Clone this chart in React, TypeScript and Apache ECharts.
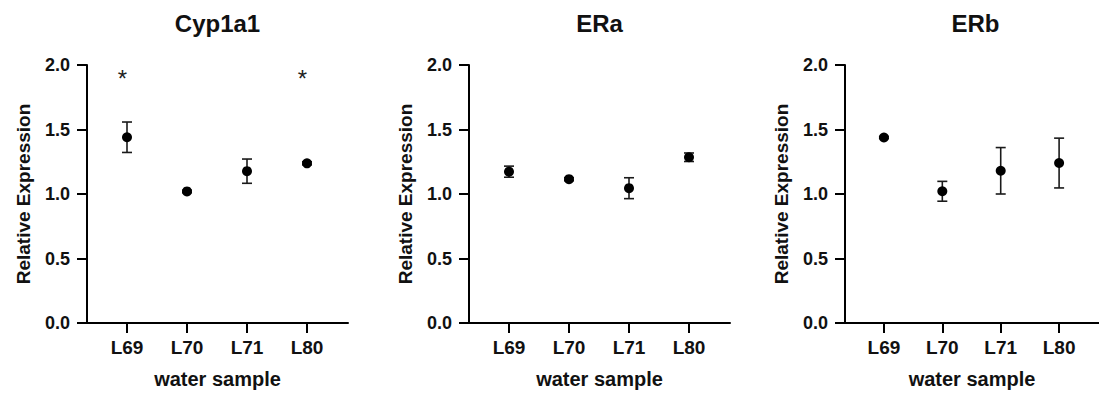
import React, { useEffect, useRef } from "react";
import * as echarts from "echarts";

const categories = ["L69", "L70", "L71", "L80"];
const titles = ["Cyp1a1", "ERa", "ERb"];

const cypMean = [1.44, 1.02, 1.177, 1.238];
const cypErr = [0.118, 0.01, 0.094, 0.012];
const cypStars = [1, 0, 0, 1];

const eraMean = [1.173, 1.115, 1.045, 1.285];
const eraErr = [0.043, 0.012, 0.081, 0.033];

const erbMean = [1.438, 1.021, 1.18, 1.24];
const erbErr = [0.008, 0.077, 0.18, 0.193];

const yTicks = [0, 0.5, 1.0, 1.5, 2.0];
const starLevel = 1.94;

const means = [cypMean, eraMean, erbMean];
const errs = [cypErr, eraErr, erbErr];

const FONT = '"Liberation Sans", Arial, sans-serif';
const gridLefts = [87, 469, 845];
const GRID_W = 261;
const GRID_TOP = 65;
const GRID_H = 261;
const XMIN = -2 / 3;
const XMAX = XMIN + GRID_W / 60;

export default function App() {
  const ref = useRef<HTMLDivElement>(null);

  useEffect(() => {
    if (!ref.current) return;
    const chart = echarts.init(ref.current, null, { renderer: "svg" });

    const grids = gridLefts.map((left) => ({
      left,
      top: GRID_TOP,
      width: GRID_W,
      height: GRID_H,
      containLabel: false,
    }));

    const tickIdx = categories.map((_, i) => i);

    const xAxes = gridLefts.map((_, g) => ({
      type: "value",
      gridIndex: g,
      min: XMIN,
      max: XMAX,
      splitLine: { show: false },
      axisLine: { show: true, onZero: false, lineStyle: { color: "#000", width: 2 } },
      axisTick: {
        show: true,
        customValues: tickIdx,
        length: 10,
        lineStyle: { color: "#000", width: 2 },
      },
      axisLabel: {
        show: true,
        customValues: tickIdx,
        formatter: (v: number) => categories[Math.round(v)] ?? "",
        margin: 15,
        fontFamily: FONT,
        fontWeight: "bold",
        fontSize: 19,
        color: "#111",
      },
      name: "water sample",
      nameLocation: "middle",
      nameGap: 46,
      nameTextStyle: { fontFamily: FONT, fontWeight: "bold", fontSize: 20, color: "#111" },
    }));

    const yAxes = gridLefts.map((_, g) => ({
      type: "value",
      gridIndex: g,
      min: yTicks[0],
      max: yTicks[yTicks.length - 1],
      interval: 0.5,
      splitLine: { show: false },
      axisLine: { show: true, onZero: false, lineStyle: { color: "#000", width: 2 } },
      axisTick: { show: true, length: 10, lineStyle: { color: "#000", width: 2 } },
      axisLabel: {
        margin: 17,
        formatter: (v: number) => v.toFixed(1),
        fontFamily: FONT,
        fontWeight: "bold",
        fontSize: 18,
        color: "#111",
      },
      name: "Relative Expression",
      nameLocation: "middle",
      nameRotate: 90,
      nameGap: 54,
      nameTextStyle: { fontFamily: FONT, fontWeight: "bold", fontSize: 19, color: "#111" },
    }));

    const series: any[] = [];
    means.forEach((m, g) => {
      const e = errs[g];
      series.push({
        type: "custom",
        xAxisIndex: g,
        yAxisIndex: g,
        z: 2,
        encode: { x: 0, y: [1, 2] },
        data: m.map((v, i) => [i, v - e[i], v + e[i]]),
        renderItem: (params: any, api: any) => {
          const x = api.value(0);
          const pLo = api.coord([x, api.value(1)]);
          const pHi = api.coord([x, api.value(2)]);
          const hw = 5;
          const style = { stroke: "#1a1a1a", lineWidth: 1.6 };
          return {
            type: "group",
            children: [
              { type: "line", shape: { x1: pHi[0], y1: pHi[1], x2: pLo[0], y2: pLo[1] }, style },
              { type: "line", shape: { x1: pHi[0] - hw, y1: pHi[1], x2: pHi[0] + hw, y2: pHi[1] }, style },
              { type: "line", shape: { x1: pLo[0] - hw, y1: pLo[1], x2: pLo[0] + hw, y2: pLo[1] }, style },
            ],
          };
        },
      });
      series.push({
        type: "scatter",
        xAxisIndex: g,
        yAxisIndex: g,
        z: 3,
        symbol: "circle",
        symbolSize: 10,
        itemStyle: { color: "#000", opacity: 1 },
        data: m.map((v, i) => [i, v]),
      });
    });

    series.push({
      type: "scatter",
      xAxisIndex: 0,
      yAxisIndex: 0,
      z: 4,
      symbolSize: 1,
      itemStyle: { color: "rgba(0,0,0,0)" },
      label: {
        show: true,
        position: "inside",
        formatter: "*",
        offset: [-4.5, 6],
        fontFamily: FONT,
        fontSize: 24,
        color: "#222",
        opacity: 1,
      },
      data: cypStars
        .map((s, i) => (s ? [i, starLevel] : null))
        .filter((d) => d !== null),
    });

    chart.setOption({
      animation: false,
      backgroundColor: "#fff",
      grid: grids,
      xAxis: xAxes,
      yAxis: yAxes,
      series,
      graphic: titles.map((t, g) => ({
        type: "text",
        x: gridLefts[g] + GRID_W / 2,
        y: 23.5,
        style: {
          text: t,
          fontFamily: FONT,
          fontWeight: "bold",
          fontSize: 24,
          fill: "#111",
          align: "center",
          verticalAlign: "middle",
        },
      })),
    });

    return () => chart.dispose();
  }, []);

  return (
    <div
      ref={ref}
      style={{ position: "absolute", left: 0, top: 0, width: 1099, height: 394 }}
    />
  );
}
